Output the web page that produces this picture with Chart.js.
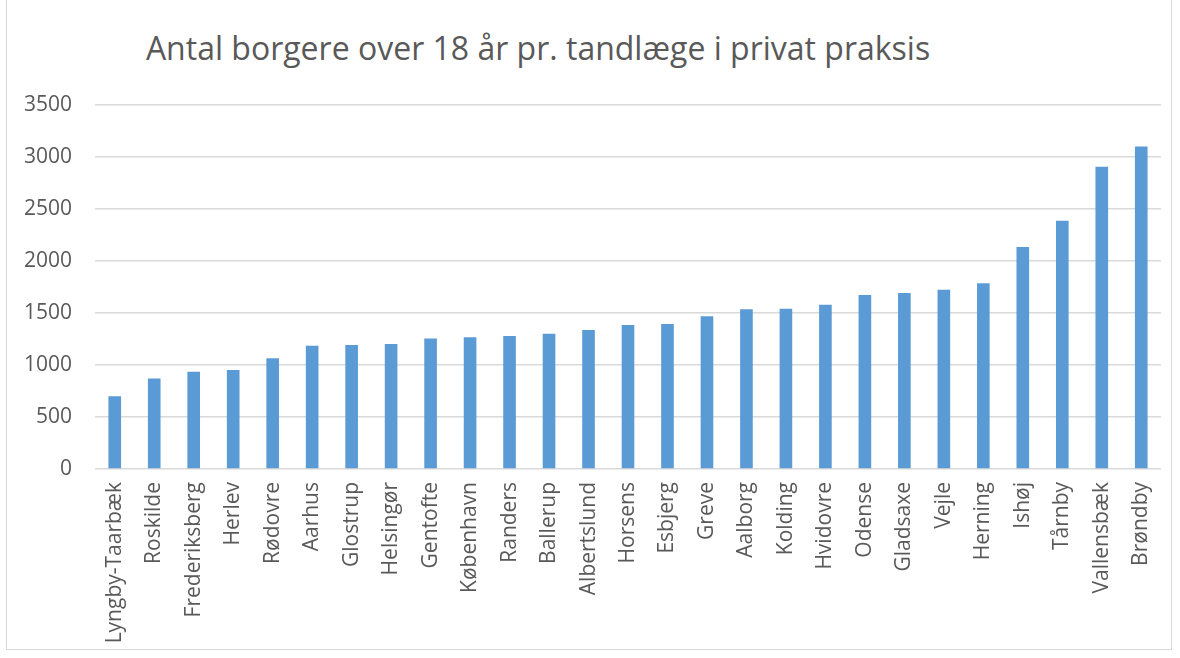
<!DOCTYPE html>
<html>
<head>
<meta charset="utf-8">
<script src="https://cdn.jsdelivr.net/npm/chart.js@4"></script>
<style>
  body { margin: 0; background: #fff; }
  #wrap { position: relative; width: 1180px; height: 658px; }
  #frame { position: absolute; left: 6px; top: -1px; width: 1166px; height: 651px; border: 1px solid #d9d9d9; box-sizing: border-box; }
  #title { position: absolute; left: 0; width: 1076px; top: 26px; text-align: center; color: #595959;
    font-family: "Liberation Sans Narrow", "Open Sans", sans-serif; font-size: 32px; white-space: nowrap; }
  canvas { position: absolute; left: 0; top: 0; }
</style>
</head>
<body>
<div id="wrap">
  <div id="frame"></div>
  <div id="title">Antal borgere over 18 år pr. tandlæge i privat praksis</div>
  <canvas id="bar-chart" width="1180" height="658"></canvas>
</div>
<script>
  const municipalities = [
    "Lyngby-Taarbæk", "Roskilde", "Frederiksberg", "Herlev", "Rødovre", "Aarhus",
    "Glostrup", "Helsingør", "Gentofte", "København", "Randers", "Ballerup",
    "Albertslund", "Horsens", "Esbjerg", "Greve", "Aalborg", "Kolding",
    "Hvidovre", "Odense", "Gladsaxe", "Vejle", "Herning", "Ishøj",
    "Tårnby", "Vallensbæk", "Brøndby"
  ];
  const citizensPerDentist = [
    700, 871, 936, 952, 1064, 1186,
    1192, 1202, 1256, 1266, 1279, 1301,
    1337, 1385, 1394, 1468, 1535, 1540,
    1580, 1673, 1692, 1724, 1785, 2135,
    2388, 2907, 3102
  ];
  const yTicks = [0, 500, 1000, 1500, 2000, 2500, 3000, 3500];

  const labelColor = "#595959";
  const gridColor = "#d9d9d9";

  const ctx = document.querySelector("#bar-chart");
  const data = {
    labels: municipalities,
    datasets: [
      {
        label: "Antal borgere over 18 år pr. tandlæge",
        data: citizensPerDentist,
        backgroundColor: "#5b9bd5",
        barPercentage: 0.32,
        categoryPercentage: 1
      }
    ]
  };
  const options = {
    responsive: false,
    animation: false,
    layout: {
      padding: { left: 0, right: 19, top: 105, bottom: 0 }
    },
    plugins: {
      legend: { display: false },
      title: { display: false },
      tooltip: { enabled: false }
    },
    scales: {
      x: {
        grid: { display: false, drawTicks: false },
        border: { display: false },
        ticks: {
          color: labelColor,
          font: { family: "Open Sans", size: 21 },
          minRotation: 90,
          maxRotation: 90,
          autoSkip: false,
          padding: 13
        },
        afterFit: (scale) => { scale.height = 189; }
      },
      y: {
        min: 0,
        max: 3500,
        afterBuildTicks: (scale) => {
          scale.ticks = yTicks.map((v) => ({ value: v }));
        },
        grid: { color: gridColor, lineWidth: 1.5, drawTicks: false },
        border: { display: false },
        ticks: {
          color: labelColor,
          font: { family: "Open Sans", size: 21 },
          padding: 23,
          callback: (value) => String(value)
        },
        afterFit: (scale) => { scale.width = 95; }
      }
    }
  };
  const barChart = new Chart(ctx, { type: "bar", data: data, options: options });
</script>
</body>
</html>
